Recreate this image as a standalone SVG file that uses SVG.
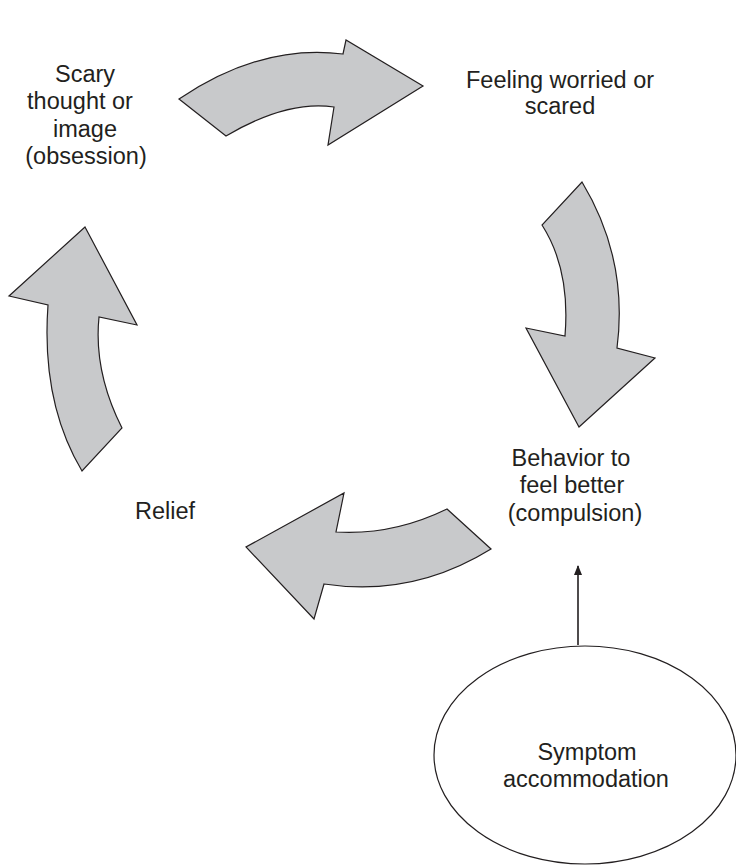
<svg xmlns="http://www.w3.org/2000/svg" width="736" height="865" viewBox="0 0 736 865">
<style>
.bg{fill:#ffffff}
.arrow{fill:#c8c9cb;stroke:#231f20;stroke-width:1.2;stroke-linejoin:miter}
.lbl{font-family:"Liberation Sans",Arial,sans-serif;font-size:23.5px;fill:#231f20;text-anchor:middle}
.conn{stroke:#231f20;stroke-width:1.6;fill:none}
.node{fill:#ffffff;stroke:#231f20;stroke-width:1.2}
</style>
<defs>
<marker id="ah" markerWidth="10" markerHeight="10" refX="9" refY="5" orient="auto" markerUnits="userSpaceOnUse">
<path d="M0,1 L10,5 L0,9 Z" fill="#231f20"/>
</marker>
</defs>
<rect class="bg" x="0" y="0" width="736" height="865"/>
<g id="cycle-arrows">
<path id="arrow-top" class="arrow" d="M179,99 Q261,43.5 343,54 L346,40 L423,86 L328,145 L334,107 Q287,100 226,136 Z"/>
<path id="arrow-right" class="arrow" d="M582,182 Q628.5,259 617,348 L655,358 L579,427 L526,328 L565,336 Q570.5,269.5 542,225 Z"/>
<path id="arrow-bottom" class="arrow" d="M447,509 L491,549 Q412.5,597.5 324,584 L314,619 L246,547 L344,493 L336,532 Q392.5,535.5 447,509 Z"/>
<path id="arrow-left" class="arrow" d="M85,227 L137,325 L99,317 Q93.5,371.5 122,428 L82,471 Q41,402 48,305 L9,296 Z"/>
</g>
<g id="node-obsession">
<text class="lbl" x="85" y="82">Scary</text>
<text class="lbl" x="80" y="109">thought or</text>
<text class="lbl" x="85" y="137">image</text>
<text class="lbl" x="86" y="164">(obsession)</text>
</g>
<g id="node-worried">
<text class="lbl" x="560" y="88">Feeling worried or</text>
<text class="lbl" x="560" y="114">scared</text>
</g>
<g id="node-compulsion">
<text class="lbl" x="571" y="466">Behavior to</text>
<text class="lbl" x="572" y="493">feel better</text>
<text class="lbl" x="575" y="521">(compulsion)</text>
</g>
<g id="node-relief">
<text class="lbl" x="165" y="519">Relief</text>
</g>
<g id="node-accommodation">
<ellipse class="node" cx="585" cy="755" rx="151" ry="109"/>
<text class="lbl" x="587" y="760">Symptom</text>
<text class="lbl" x="586" y="787">accommodation</text>
</g>
<g id="connectors">
<line class="conn" x1="578" y1="645" x2="578" y2="566" marker-end="url(#ah)"/>
</g>
</svg>
